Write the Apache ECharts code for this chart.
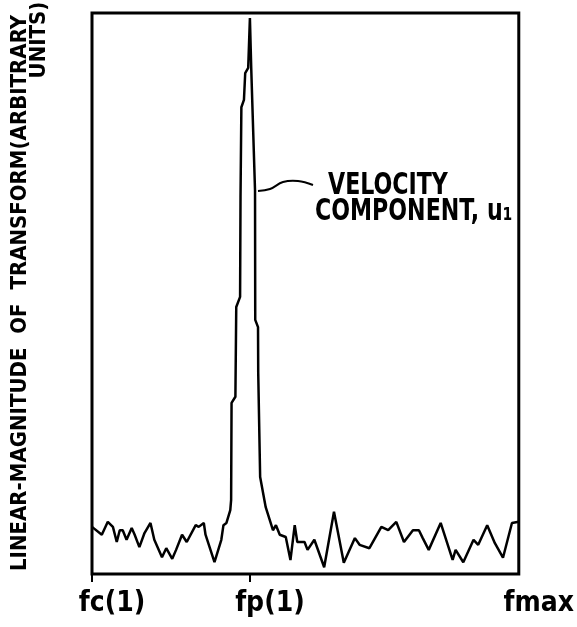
<!DOCTYPE html>
<html>
<head>
<meta charset="utf-8">
<script src="https://cdn.jsdelivr.net/npm/echarts@6/dist/echarts.min.js"></script>
<style>
  html, body { margin: 0; padding: 0; background: #fff; }
  #chart { width: 577px; height: 627px; }
</style>
</head>
<body>
<div id="chart"></div>
<script>
  // frequency axis, 0 = fc(1), 100 = fmax
  var freq = [0, 2.3, 3.7, 4.9, 5.8, 6.5, 7.2, 8.1, 9.3, 10.0, 11.1, 12.3, 13.7, 14.6, 16.4, 17.4, 18.8, 19.7,
    21.1, 22.2, 24.3, 25.0, 26.2, 26.6, 28.7, 30.3, 30.8, 31.5, 32.4, 32.6, 32.7, 33.6, 33.8, 34.7, 34.8, 35.0,
    35.6, 35.9, 36.6, 37.0, 37.3, 38.2, 38.25, 38.9, 38.95, 39.4, 40.7, 42.4, 43.1, 44.0, 45.4, 46.5, 47.5,
    48.1, 49.8, 50.5, 52.1, 54.4, 56.7, 59.0, 61.6, 62.7, 65.0, 67.8, 69.4, 71.3, 73.1, 75.2, 76.6, 77.5,
    78.9, 81.7, 84.5, 85.2, 87.0, 89.4, 90.5, 92.6, 94.4, 96.3, 98.4, 100];
  var magnitude = [8.4, 7.0, 9.3, 8.4, 5.7, 7.8, 7.8, 6.1, 8.2, 7.0, 4.8, 7.3, 9.1, 6.1, 3.0, 4.6, 2.7, 4.3,
    7.0, 5.7, 8.7, 8.4, 9.1, 7.0, 2.1, 6.1, 8.7, 9.1, 11.4, 13.2, 30.5, 31.6, 47.6, 49.4, 67.2, 83.2,
    84.5, 89.3, 90.2, 99.1, 90.4, 68.4, 45.3, 44.0, 35.8, 17.3, 11.9, 7.8, 8.7, 7.0, 6.6, 2.5, 8.7,
    5.7, 5.7, 4.3, 6.1, 1.2, 11.1, 2.0, 6.4, 5.2, 4.6, 8.4, 7.8, 9.3, 5.7, 7.8, 7.8, 6.4,
    4.3, 9.1, 2.5, 4.3, 2.1, 6.1, 5.2, 8.7, 5.5, 2.9, 9.1, 9.3];

  var tickValues = [0, 37, 100];
  var tickLabels = ['fc(1)', 'fp(1)', 'fmax'];

  var font = "'DejaVu Sans Condensed', 'Liberation Sans Narrow', sans-serif";

  var points = [];
  for (var i = 0; i < freq.length; i++) {
    points.push([freq[i], magnitude[i]]);
  }

  var myChart = echarts.init(document.getElementById('chart'));

  myChart.setOption({
    animation: false,
    grid: {
      left: 92, top: 13, right: 53, bottom: 53,
      show: true,
      borderColor: '#000',
      borderWidth: 3
    },
    xAxis: {
      type: 'value',
      min: 0,
      max: 100,
      splitLine: {show: false},
      axisLine: {show: false},
      axisTick: {
        show: true,
        customValues: [0, 37],
        length: 8,
        lineStyle: {color: '#000', width: 2}
      },
      axisLabel: {
        customValues: tickValues,
        margin: 16,
        color: '#000',
        fontFamily: font,
        fontWeight: 'bold',
        fontSize: 28,
        align: 'center',
        padding: [0, 0, 0, 40],
        formatter: function (v) {
          return tickLabels[tickValues.indexOf(v)];
        }
      }
    },
    yAxis: {
      type: 'value',
      min: 0,
      max: 100,
      axisLine: {show: false},
      axisTick: {show: false},
      axisLabel: {show: false},
      splitLine: {show: false}
    },
    series: [{
      type: 'line',
      data: points,
      showSymbol: false,
      lineStyle: {color: '#000', width: 2.5},
      z: 3
    }],
    graphic: [
      {
        type: 'text',
        x: 20, y: 293,
        rotation: Math.PI / 2,
        style: {
          text: 'LINEAR-MAGNITUDE  OF  TRANSFORM(ARBITRARY',
          fill: '#000',
          font: 'bold 22px ' + font,
          align: 'center',
          verticalAlign: 'middle'
        }
      },
      {
        type: 'text',
        x: 39, y: 40,
        rotation: Math.PI / 2,
        style: {
          text: 'UNITS)',
          fill: '#000',
          font: 'bold 22px ' + font,
          align: 'center',
          verticalAlign: 'middle'
        }
      },
      {
        type: 'text',
        x: 328, y: 186,
        scaleX: 0.82,
        style: {
          text: 'VELOCITY',
          fill: '#000',
          font: 'bold 30px ' + font,
          align: 'left',
          verticalAlign: 'middle'
        }
      },
      {
        type: 'text',
        x: 315, y: 212,
        scaleX: 0.82,
        style: {
          text: 'COMPONENT, u₁',
          fill: '#000',
          font: 'bold 30px ' + font,
          align: 'left',
          verticalAlign: 'middle'
        }
      },
      {
        type: 'polyline',
        shape: {
          points: [[258, 191], [270, 189], [283, 182], [298, 181], [313, 185]],
          smooth: 0.4
        },
        style: {stroke: '#000', lineWidth: 2, fill: null}
      }
    ]
  });
</script>
</body>
</html>
